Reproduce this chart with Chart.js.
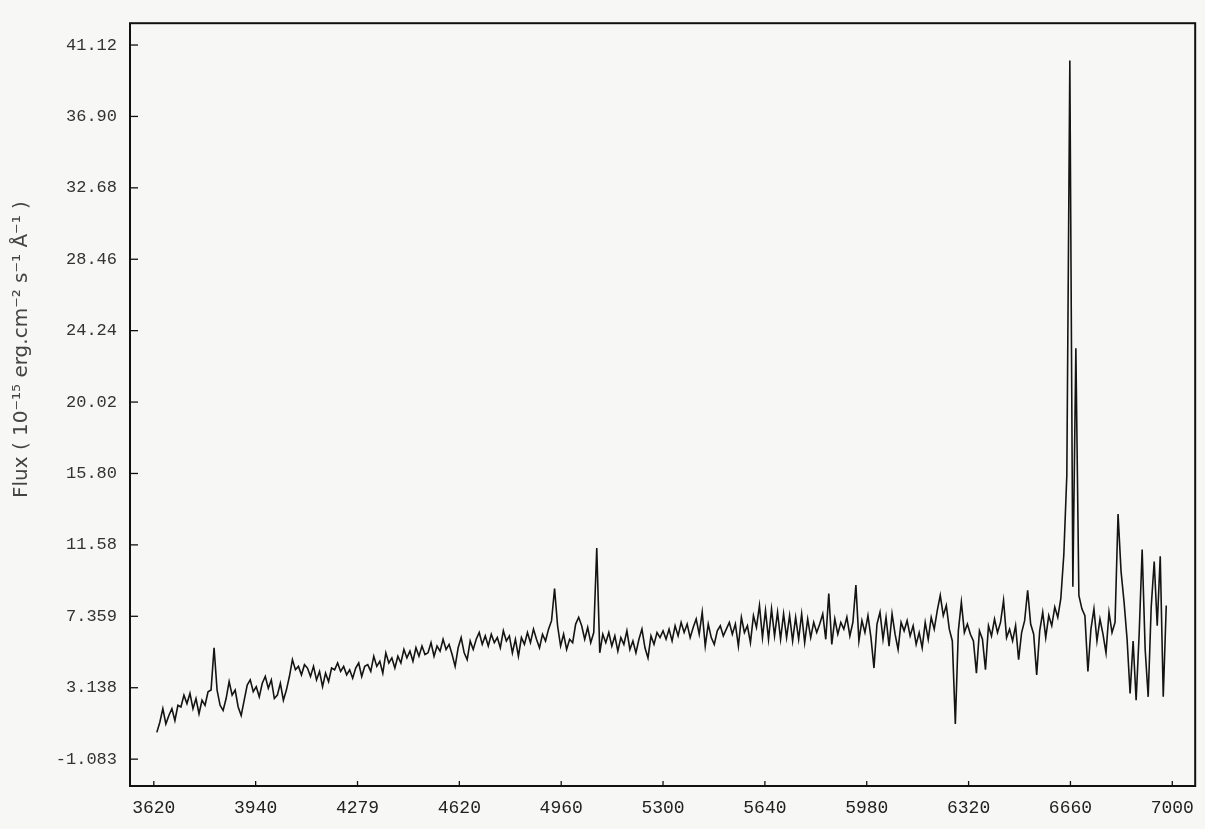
<!DOCTYPE html>
<html>
<head>
<meta charset="utf-8">
<script src="https://cdn.jsdelivr.net/npm/chart.js@4/dist/chart.umd.min.js"></script>
<style>
  html, body { margin: 0; padding: 0; background: #f7f7f5; }
  #wrap { width: 1205px; height: 829px; }
</style>
</head>
<body>
<div id="wrap"><canvas id="spectrum" width="1205" height="829"></canvas></div>
<script>
// wavelength grid (Angstrom)
var wavelength = [
  3630,3640,3650,3660,3670,3680,3690,3700,3710,3720,
  3730,3740,3750,3760,3770,3780,3790,3800,3810,3820,
  3830,3840,3850,3860,3870,3880,3890,3900,3910,3920,
  3930,3940,3950,3960,3970,3980,3990,4000,4010,4020,
  4030,4040,4050,4060,4070,4080,4090,4100,4110,4120,
  4130,4140,4150,4160,4170,4180,4190,4200,4210,4220,
  4230,4240,4250,4260,4270,4280,4290,4300,4310,4320,
  4330,4340,4350,4360,4370,4380,4390,4400,4410,4420,
  4430,4440,4450,4460,4470,4480,4490,4500,4510,4520,
  4530,4540,4550,4560,4570,4580,4590,4600,4610,4620,
  4630,4640,4650,4660,4670,4680,4690,4700,4710,4720,
  4730,4740,4750,4760,4770,4780,4790,4800,4810,4820,
  4830,4840,4850,4860,4870,4880,4890,4900,4910,4920,
  4930,4940,4950,4960,4970,4980,4990,5000,5010,5020,
  5030,5040,5050,5060,5070,5080,5090,5100,5110,5120,
  5130,5140,5150,5160,5170,5180,5190,5200,5210,5220,
  5230,5240,5250,5260,5270,5280,5290,5300,5310,5320,
  5330,5340,5350,5360,5370,5380,5390,5400,5410,5420,
  5430,5440,5450,5460,5470,5480,5490,5500,5510,5520,
  5530,5540,5550,5560,5570,5580,5590,5600,5610,5620,
  5630,5640,5650,5660,5670,5680,5690,5700,5710,5720,
  5730,5740,5750,5760,5770,5780,5790,5800,5810,5820,
  5830,5840,5850,5860,5870,5880,5890,5900,5910,5920,
  5930,5940,5950,5960,5970,5980,5990,6000,6010,6020,
  6030,6040,6050,6060,6070,6080,6090,6100,6110,6120,
  6130,6140,6150,6160,6170,6180,6190,6200,6210,6220,
  6230,6240,6250,6260,6270,6280,6290,6300,6310,6320,
  6330,6340,6350,6360,6370,6380,6390,6400,6410,6420,
  6430,6440,6450,6460,6470,6480,6490,6500,6510,6520,
  6530,6540,6550,6560,6570,6580,6590,6600,6610,6620,
  6630,6640,6650,6660,6670,6680,6690,6700,6710,6720,
  6730,6740,6750,6760,6770,6780,6790,6800,6810,6820,
  6830,6840,6850,6860,6870,6880,6890,6900,6910,6920,
  6930,6940,6950,6960,6970,6980
];

// flux in 1e-15 erg cm-2 s-1 A-1
var flux = [
  0.5,1.1,1.9,1.0,1.5,1.9,1.2,2.1,2.0,2.7,
  2.2,2.8,1.9,2.5,1.6,2.4,2.1,2.9,3.0,5.5,
  3.0,2.1,1.8,2.5,3.5,2.7,3.0,2.0,1.5,2.4,
  3.3,3.6,2.9,3.2,2.6,3.4,3.8,3.1,3.6,2.5,
  2.7,3.4,2.4,3.0,3.8,4.8,4.2,4.4,3.9,4.5,
  4.3,3.8,4.4,3.6,4.1,3.2,4.0,3.5,4.3,4.2,
  4.6,4.1,4.4,3.9,4.2,3.7,4.3,4.6,3.8,4.4,
  4.5,4.1,5.0,4.4,4.7,4.0,5.2,4.6,4.9,4.3,
  5.0,4.6,5.4,4.9,5.3,4.7,5.5,5.0,5.6,5.1,
  5.2,5.8,5.0,5.6,5.3,6.0,5.4,5.7,5.1,4.4,
  5.5,6.1,5.2,4.8,5.9,5.4,6.0,6.4,5.7,6.2,
  5.6,6.3,5.8,6.1,5.5,6.5,5.9,6.2,5.2,6.0,
  5.0,6.1,5.7,6.4,5.8,6.6,6.0,5.5,6.3,5.9,
  6.6,7.1,9.0,6.8,5.6,6.3,5.4,6.0,5.8,6.9,
  7.3,6.8,6.0,6.7,5.8,6.4,11.4,5.2,6.3,5.8,
  6.4,5.6,6.2,5.3,6.1,5.7,6.5,5.4,5.9,5.2,
  6.0,6.6,5.5,4.9,6.2,5.7,6.4,6.1,6.5,6.0,
  6.6,5.9,6.8,6.2,7.0,6.4,6.9,6.1,6.7,7.2,
  6.3,7.6,5.6,6.9,6.1,5.7,6.5,6.8,6.2,6.6,
  7.0,6.3,6.9,5.6,7.3,6.4,6.8,5.8,7.4,6.7,
  8.0,6.1,7.7,6.0,7.8,6.2,7.6,6.0,7.5,6.1,
  7.4,5.9,7.3,6.0,7.5,5.8,7.2,6.1,7.0,6.4,
  6.9,7.5,6.0,8.7,5.7,7.2,6.3,7.0,6.6,7.3,
  6.2,7.0,9.2,5.9,7.1,6.4,7.4,6.1,4.3,6.9,
  7.6,6.0,7.3,5.6,7.5,6.3,5.4,7.0,6.5,7.1,
  6.2,6.8,5.7,6.4,5.5,7.0,6.0,7.3,6.6,7.7,
  8.6,7.4,8.0,6.6,5.9,1.0,6.5,8.2,6.4,6.9,
  6.3,5.9,4.0,6.5,6.0,4.2,6.8,6.2,7.2,6.4,
  7.0,8.3,6.1,6.6,5.9,6.8,4.8,6.4,7.1,8.9,
  6.9,6.3,3.9,6.5,7.6,6.1,7.4,6.8,7.9,7.3,
  8.4,11.0,15.7,40.2,9.1,23.2,8.6,7.8,7.4,4.1,
  6.6,7.8,5.9,7.2,6.3,5.2,7.6,6.4,7.0,13.4,
  10.0,8.2,6.0,2.8,5.9,2.4,6.3,11.3,5.4,2.6,
  7.9,10.6,6.8,10.9,2.6,8.0
];

var xTickValues = [3620, 3958, 4296, 4634, 4972, 5310, 5648, 5986, 6324, 6662, 7000];
var xTickLabels = ['3620', '3940', '4279', '4620', '4960', '5300', '5640', '5980', '6320', '6660', '7000'];
var yTickValues = [-1.083, 3.138, 7.359, 11.58, 15.80, 20.02, 24.24, 28.46, 32.68, 36.90, 41.12];
var yTickLabels = ['-1.083', '3.138', '7.359', '11.58', '15.80', '20.02', '24.24', '28.46', '32.68', '36.90', '41.12'];

var points = wavelength.map(function (w, i) { return { x: w, y: flux[i] }; });

// paper background, frame and the small inward tick marks of the plotter
var plotterFrame = {
  id: 'plotterFrame',
  beforeDraw: function (chart) {
    var c = chart.ctx;
    c.save();
    c.fillStyle = '#f7f7f5';
    c.fillRect(0, 0, chart.width, chart.height);
    c.restore();
  },
  afterDraw: function (chart) {
    var c = chart.ctx, a = chart.chartArea, xs = chart.scales.x, ys = chart.scales.y;
    c.save();
    c.strokeStyle = '#111';
    c.lineWidth = 2;
    c.strokeRect(a.left, a.top, a.right - a.left, a.bottom - a.top);
    c.lineWidth = 1.3;
    ys.ticks.forEach(function (t) {
      var py = ys.getPixelForValue(t.value);
      c.beginPath(); c.moveTo(a.left, py); c.lineTo(a.left + 8, py); c.stroke();
    });
    xs.ticks.forEach(function (t) {
      var px = xs.getPixelForValue(t.value);
      c.beginPath(); c.moveTo(px, a.bottom); c.lineTo(px, a.bottom - 5); c.stroke();
    });
    c.restore();
  }
};

var ctx = document.getElementById('spectrum');
var spectrumChart = new Chart(ctx, {
  type: 'line',
  data: {
    datasets: [{
      label: 'Flux',
      data: points,
      borderColor: '#141414',
      borderWidth: 1.6,
      pointRadius: 0,
      tension: 0,
      fill: false
    }]
  },
  options: {
    responsive: false,
    animation: false,
    layout: { padding: { top: 18, right: 5, left: 0, bottom: 0 } },
    plugins: { legend: { display: false }, tooltip: { enabled: false } },
    scales: {
      x: {
        type: 'linear',
        min: 3541,
        max: 7076,
        grid: { display: false, drawTicks: false },
        border: { display: false },
        afterBuildTicks: function (scale) {
          scale.ticks = xTickValues.map(function (v) { return { value: v }; });
        },
        afterFit: function (scale) { scale.height = 43; },
        ticks: {
          padding: 11,
          maxRotation: 0,
          autoSkip: false,
          color: '#222',
          font: { family: 'Liberation Mono', size: 18 },
          callback: function (v, i) { return xTickLabels[i]; }
        }
      },
      y: {
        type: 'linear',
        min: -2.67,
        max: 42.41,
        grid: { display: false, drawTicks: false },
        border: { display: false },
        afterBuildTicks: function (scale) {
          scale.ticks = yTickValues.map(function (v) { return { value: v }; });
        },
        afterFit: function (scale) { scale.width = 130; },
        ticks: {
          padding: 13,
          autoSkip: false,
          color: '#333',
          font: { family: 'Liberation Mono', size: 17 },
          callback: function (v, i) { return yTickLabels[i]; }
        },
        title: {
          display: true,
          text: '\u2002\u2002\u2002\u2002\u2002\u2002\u2002\u2002\u2002\u2002\u2002Flux ( 10⁻¹⁵ erg.cm⁻² s⁻¹ Å⁻¹ )',
          color: '#444',
          font: { family: 'DejaVu Sans', size: 20 },
          padding: { top: 10, bottom: 0 }
        }
      }
    }
  },
  plugins: [plotterFrame]
});
</script>
</body>
</html>
